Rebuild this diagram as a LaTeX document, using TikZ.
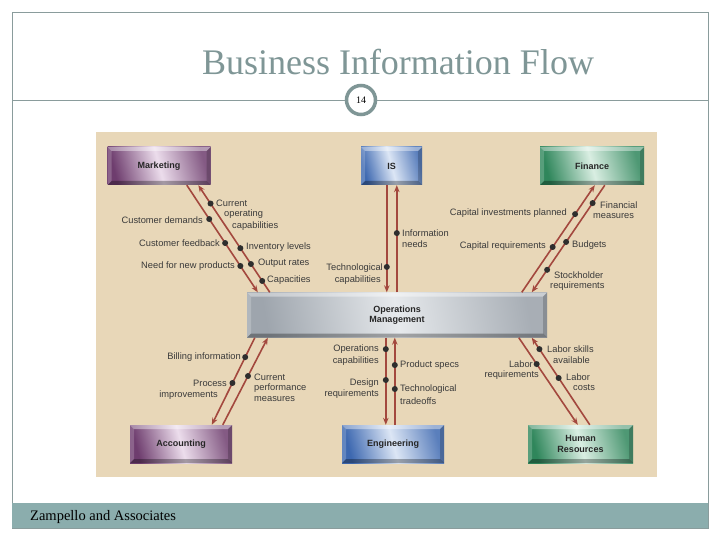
\documentclass[tikz,border=0pt]{standalone}
\usepackage{fontspec}
\setmainfont{Liberation Serif}
\setsansfont{Liberation Sans}
\usetikzlibrary{arrows.meta,calc}
\definecolor{beige}{HTML}{E8D7B8}
\definecolor{framec}{HTML}{8A9C9C}
\definecolor{titlec}{HTML}{7F9696}
\definecolor{footc}{HTML}{8BADAD}
\definecolor{arrc}{HTML}{A3483E}
\definecolor{dotc}{HTML}{2E2E2E}
\definecolor{labc}{HTML}{3A3A3A}
\definecolor{purD}{HTML}{6E3D6E}
\definecolor{purM}{HTML}{ECDDEC}
\definecolor{bluD}{HTML}{3D68B0}
\definecolor{bluM}{HTML}{DCE6F5}
\definecolor{grnD}{HTML}{2F865B}
\definecolor{grnM}{HTML}{D9EEE2}
\definecolor{gryD}{HTML}{9EA5AD}
\definecolor{gryM}{HTML}{E6E9EC}
\tikzset{
  bevel/.style={path picture={
    \coordinate (bNW) at (path picture bounding box.north west);
    \coordinate (bNE) at (path picture bounding box.north east);
    \coordinate (bSW) at (path picture bounding box.south west);
    \coordinate (bSE) at (path picture bounding box.south east);
    \fill[white,opacity=.40] (bNW)--(bNE)--($(bNE)+(-4,4)$)--($(bNW)+(4,4)$)--cycle;
    \fill[white,opacity=.20] (bNW)--($(bNW)+(4,4)$)--($(bSW)+(4,-4)$)--(bSW)--cycle;
    \fill[black,opacity=.30] (bSW)--(bSE)--($(bSE)+(-4,-4)$)--($(bSW)+(4,-4)$)--cycle;
    \fill[black,opacity=.18] (bNE)--(bSE)--($(bSE)+(-4,-4)$)--($(bNE)+(-4,4)$)--cycle;
  }},
  box/.style={rectangle, inner sep=0pt, minimum height=38pt, bevel,
    font=\sffamily\bfseries\fontsize{9}{10.5}\selectfont, text=black!85, align=center},
  purbox/.style={box, left color=purD, right color=purD!85, middle color=purM, shading angle=105},
  blubox/.style={box, left color=bluD, right color=bluD!85, middle color=bluM, shading angle=105},
  grnbox/.style={box, left color=grnD, right color=grnD!85, middle color=grnM, shading angle=105},
  grybox/.style={box, left color=gryD, right color=gryD!90, middle color=gryM, shading angle=100},
  flow/.style={draw=arrc, line width=1.6pt, -{Stealth[length=7pt,width=5.5pt]}},
  dotn/.style={circle, fill=dotc, inner sep=0pt, minimum size=6pt},
  lbl/.style={font=\sffamily\fontsize{9.3}{10}\selectfont, text=labc, inner sep=0pt},
  le/.style={lbl, anchor=east},
  lw/.style={lbl, anchor=west}
}
\begin{document}
\begin{tikzpicture}[x=1pt,y=-1pt]
\useasboundingbox (0,0) rectangle (720,540);
\fill[white] (0,0) rectangle (720,540);
% slide frame
\draw[framec, line width=0.8pt] (12,12) rectangle (708,528);
\fill[footc] (12,503) rectangle (708,528);
\node[anchor=west, inner sep=0pt, font=\rmfamily\fontsize{14.5}{16}\selectfont] (foot) at (30,517) {Zampello and Associates};
\node[inner sep=0pt, font=\rmfamily\fontsize{36}{40}\selectfont, text=titlec] (title) at (398,62) {Business Information Flow};
\coordinate (hl) at (12,100);
\coordinate (hr) at (708,100);
\node[circle, draw=titlec, line width=3.5pt, fill=white, minimum size=29pt, inner sep=0pt, font=\rmfamily\fontsize{10}{11}\selectfont] (pg) at (361,100) {14};
\draw[framec, line width=0.8pt] (hl) -- (pg.west);
\draw[framec, line width=0.8pt] (pg.east) -- (hr);
% diagram background
\fill[beige] (96,132) rectangle (657,477);
% boxes
\node[purbox, minimum width=103pt] (mkt) at (159,166) {Marketing};
\node[blubox, minimum width=61pt] (is) at (391.5,166) {IS};
\node[grnbox, minimum width=104pt] (fin) at (592,166) {Finance};
\node[grybox, minimum width=300pt, minimum height=45pt] (om) at (397,315) {Operations\\Management};
\node[purbox, minimum width=102pt] (acc) at (181,444) {Accounting};
\node[blubox, minimum width=102pt] (eng) at (393,444) {Engineering};
\node[grnbox, minimum width=105pt] (hrm) at (580.5,444) {Human\\Resources};
% Marketing <-> OM
\draw[flow] ($(mkt.south west)+(79.5,0)$) --
  node[dotn,pos=0.316] (d1) {} node[dotn,pos=0.54] (d2) {} node[dotn,pos=0.754] (d3) {}
  ($(om.north west)+(11,0)$);
\draw[flow] ($(om.north west)+(23,0)$) --
  node[dotn,pos=0.829] (d4) {} node[dotn,pos=0.412] (d5) {} node[dotn,pos=0.264] (d6) {} node[dotn,pos=0.106] (d7) {}
  ($(mkt.south west)+(91,0)$);
% IS <-> OM
\draw[flow] ($(is.south west)+(26,0)$) -- node[dotn,pos=0.763] (d8) {} ($(om.north west)+(140,0)$);
\draw[flow] ($(om.north west)+(150,0)$) -- node[dotn,pos=0.553] (d9) {} ($(is.south west)+(36,0)$);
% Finance <-> OM
\draw[flow] ($(om.north west)+(275,0)$) --
  node[dotn,pos=0.730] (d10) {} node[dotn,pos=0.423] (d11) {}
  ($(fin.south west)+(55,0)$);
\draw[flow] ($(fin.south west)+(65,0)$) --
  node[dotn,pos=0.167] (d12) {} node[dotn,pos=0.53] (d13) {} node[dotn,pos=0.79] (d14) {}
  ($(om.north west)+(285,0)$);
% Accounting <-> OM
\draw[flow] ($(om.south west)+(8,0)$) --
  node[dotn,pos=0.223] (d15) {} node[dotn,pos=0.52] (d16) {}
  ($(acc.north west)+(82,0)$);
\draw[flow] ($(acc.north west)+(93,0)$) -- node[dotn,pos=0.56] (d17) {} ($(om.south west)+(21,0)$);
% Engineering <-> OM
\draw[flow] ($(om.south west)+(139,0)$) --
  node[dotn,pos=0.131] (d18) {} node[dotn,pos=0.486] (d19) {}
  ($(eng.north west)+(44,0)$);
\draw[flow] ($(eng.north west)+(53,0)$) --
  node[dotn,pos=0.686] (d20) {} node[dotn,pos=0.411] (d21) {}
  ($(om.south west)+(148,0)$);
% HR <-> OM
\draw[flow] ($(om.south west)+(272,0)$) -- node[dotn,pos=0.303] (d22) {} ($(hrm.north west)+(50,0)$);
\draw[flow] ($(hrm.north west)+(62,0)$) --
  node[dotn,pos=0.869] (d23) {} node[dotn,pos=0.537] (d24) {}
  ($(om.south west)+(285,0)$);
% labels: Marketing
\node[le] (t1) at (203,220) {Customer demands};
\node[le] (t2) at (220,243) {Customer feedback};
\node[le] (t3) at (235,266) {Need for new products};
\node[lw] (t4a) at (216,203) {Current};
\node[lw] (t4b) at (224,214) {operating};
\node[lw] (t4c) at (232,226) {capabilities};
\node[lw] (t5) at (246,247) {Inventory levels};
\node[lw] (t6) at (258,263) {Output rates};
\node[lw] (t7) at (267,280) {Capacities};
% labels: IS
\node[le] (t8a) at (383,268) {Technological};
\node[le] (t8b) at (381,280) {capabilities};
\node[lw] (t9a) at (402,233) {Information};
\node[lw] (t9b) at (402,244) {needs};
% labels: Finance
\node[le] (t10) at (567,213) {Capital investments planned};
\node[le] (t11) at (546,246) {Capital requirements};
\node[lw] (t12a) at (600,205) {Financial};
\node[lw] (t12b) at (593,216) {measures};
\node[lw] (t13) at (572,245) {Budgets};
\node[lw] (t14a) at (554,275) {Stockholder};
\node[lw] (t14b) at (550,286) {requirements};
% labels: Accounting
\node[le] (t15) at (241,357) {Billing information};
\node[le] (t16a) at (227,383) {Process};
\node[le] (t16b) at (218,395) {improvements};
\node[lw] (t17a) at (254,377) {Current};
\node[lw] (t17b) at (254,388) {performance};
\node[lw] (t17c) at (254,399) {measures};
% labels: Engineering
\node[le] (t18a) at (379,349) {Operations};
\node[le] (t18b) at (379,361) {capabilities};
\node[le] (t19a) at (379,383) {Design};
\node[le] (t19b) at (379,394) {requirements};
\node[lw] (t20) at (400,365) {Product specs};
\node[lw] (t21a) at (400,389) {Technological};
\node[lw] (t21b) at (400,401) {tradeoffs};
% labels: HR
\node[lw] (t22a) at (547,349) {Labor skills};
\node[lw] (t22b) at (553,360) {available};
\node[le] (t23a) at (533,364) {Labor};
\node[le] (t23b) at (539,375) {requirements};
\node[lw] (t24a) at (566,377) {Labor};
\node[lw] (t24b) at (573,388) {costs};
\end{tikzpicture}
\end{document}
